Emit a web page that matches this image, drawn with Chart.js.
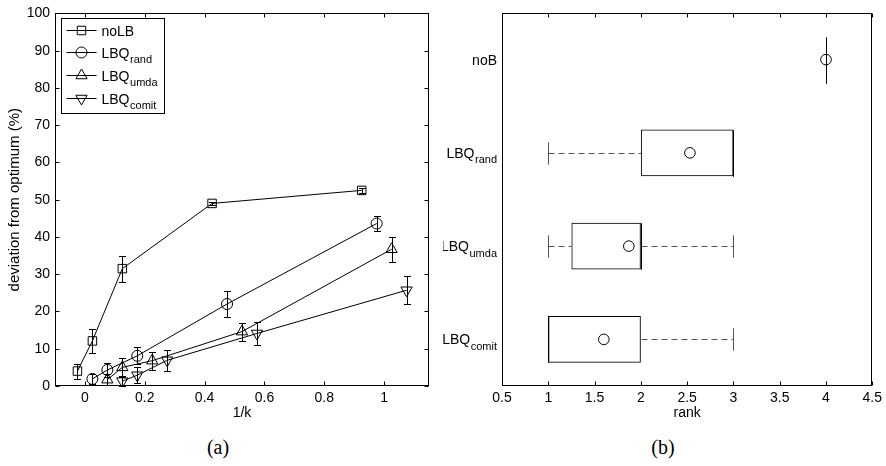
<!DOCTYPE html>
<html>
<head>
<meta charset="utf-8">
<script src="https://cdn.jsdelivr.net/npm/chart.js@4.4.0/dist/chart.umd.min.js"></script>
<style>
    body { margin: 0; background: #fff; width: 886px; height: 466px; position: relative; overflow: hidden; }
    .pane { position: absolute; top: 0; width: 443px; height: 422px; }
    #paneA { left: 0; }
    #paneB { left: 443px; }
    .caption { position: absolute; top: 437px; line-height: 20px; font-family: "Liberation Serif", "DejaVu Serif", serif; font-size: 20px; transform: translateX(-50%); }
</style>
</head>
<body>
<div class="pane" id="paneA"><canvas id="devChart"></canvas></div>
<div class="pane" id="paneB"><canvas id="rankChart"></canvas></div>
<div class="caption" style="left:218px">(a)</div>
<div class="caption" style="left:663px">(b)</div>

<script>
// ---- panel (a): deviation vs 1/k ----
const xTicksA = [0, 0.2, 0.4, 0.6, 0.8, 1];
const yTicksA = [0, 10, 20, 30, 40, 50, 60, 70, 80, 90, 100];

const noLbX   = [-0.025, 0.025, 0.125, 0.425, 0.925];
const noLbY   = [4.0, 12.1, 31.5, 49.0, 52.5];
const noLbErr = [2.0, 3.2, 3.5, 0.5, 0.6];

const randX   = [0.025, 0.075, 0.175, 0.475, 0.975];
const randY   = [1.9, 4.3, 8.1, 22.0, 43.6];
const randErr = [1.3, 2.0, 2.3, 3.6, 2.0];

const umdaX   = [0.075, 0.125, 0.225, 0.525, 1.025];
const umdaY   = [1.7, 5.0, 6.8, 14.6, 36.7];
const umdaErr = [1.5, 2.6, 2.4, 2.4, 3.4];

const comitX   = [0.125, 0.175, 0.275, 0.575, 1.075];
const comitY   = [1.3, 2.9, 6.9, 14.1, 25.7];
const comitErr = [1.3, 2.1, 2.8, 3.2, 3.7];

const seriesMain = ['noLB', 'LBQ', 'LBQ', 'LBQ'];
const seriesSub  = ['', 'rand', 'umda', 'comit'];

// ---- panel (b): rank box plot ----
const rankMain   = ['noB', 'LBQ', 'LBQ', 'LBQ'];
const rankSub    = ['', 'rand', 'umda', 'comit'];
const rankLow    = [4, 1, 1, 1];
const rankQ1     = [4, 2, 1.25, 1];
const rankMedian = [4, 3, 2, 1];
const rankQ3     = [4, 3, 2, 2];
const rankHigh   = [4, 3, 3, 3];
const rankMean   = [4, 2.53, 1.87, 1.6];
const rankTicks  = [0.5, 1, 1.5, 2, 2.5, 3, 3.5, 4, 4.5];

const FONT = '"Liberation Sans", Arial, sans-serif';
Chart.defaults.font.family = FONT;
Chart.defaults.color = '#000';

const seriesX = [noLbX, randX, umdaX, comitX];
const seriesY = [noLbY, randY, umdaY, comitY];
const seriesErr = [noLbErr, randErr, umdaErr, comitErr];
const markers = ['rect', 'circle', 'triangle', 'triangle'];
const rotations = [0, 0, 0, 180];
const radii = [6, 5.5, 6.5, 6.5];

// matlab style numbers: 1 not 1.0
const plainNum = v => String(Math.round(v * 100) / 100);

// label with a subscript part (LBQ_rand etc.)
function drawSubLabel(ctx, main, sub, x, cy, align) {
    ctx.font = '14px ' + FONT;
    const wMain = ctx.measureText(main).width;
    ctx.font = '11px ' + FONT;
    const wSub = sub ? ctx.measureText(sub).width + 0.5 : 0;
    const x0 = align === 'right' ? x - wMain - wSub : x;
    ctx.fillStyle = '#000';
    ctx.textAlign = 'left';
    ctx.textBaseline = 'alphabetic';
    ctx.font = '14px ' + FONT;
    ctx.fillText(main, x0, cy + 5);
    if (sub) {
        ctx.font = '11px ' + FONT;
        ctx.fillText(sub, x0 + wMain + 0.5, cy + 10.5);
    }
}

// box round the plot area with inward ticks
function boxAxes(withYTicks) {
    return {
        id: 'boxAxes',
        afterDraw(chart) {
            const { ctx, chartArea: a, scales } = chart;
            const l = Math.round(a.left) + 0.5, r = Math.round(a.right) - 0.5;
            const t = Math.round(a.top) + 0.5, b = Math.round(a.bottom) - 0.5;
            ctx.save();
            ctx.strokeStyle = '#000';
            ctx.lineWidth = 1;
            ctx.beginPath();
            scales.x.ticks.forEach(tk => {
                const px = Math.round(scales.x.getPixelForValue(tk.value)) + 0.5;
                ctx.moveTo(px, b); ctx.lineTo(px, b - 4);
                ctx.moveTo(px, t); ctx.lineTo(px, t + 4);
            });
            if (withYTicks) {
                scales.y.ticks.forEach(tk => {
                    const py = Math.round(scales.y.getPixelForValue(tk.value)) + 0.5;
                    ctx.moveTo(l, py); ctx.lineTo(l + 4, py);
                    ctx.moveTo(r, py); ctx.lineTo(r - 4, py);
                });
            }
            ctx.stroke();
            ctx.strokeRect(l, t, r - l, b - t);
            ctx.restore();
        }
    };
}

const errorBars = {
    id: 'errorBars',
    afterDatasetsDraw(chart) {
        const { ctx, scales: { x, y } } = chart;
        ctx.save();
        ctx.strokeStyle = '#000';
        ctx.lineWidth = 1;
        ctx.beginPath();
        seriesX.forEach((xs, i) => xs.forEach((xv, j) => {
            const px = Math.round(x.getPixelForValue(xv)) + 0.5;
            const hi = Math.round(y.getPixelForValue(seriesY[i][j] + seriesErr[i][j])) + 0.5;
            const lo = Math.round(y.getPixelForValue(seriesY[i][j] - seriesErr[i][j])) + 0.5;
            ctx.moveTo(px, hi); ctx.lineTo(px, lo);
            ctx.moveTo(px - 3.5, hi); ctx.lineTo(px + 3.5, hi);
            ctx.moveTo(px - 3.5, lo); ctx.lineTo(px + 3.5, lo);
        }));
        ctx.stroke();
        ctx.restore();
    }
};

const subLegend = {
    id: 'subLegend',
    afterDraw(chart) {
        const { ctx, chartArea: a } = chart;
        const bx = Math.round(a.left) + 6.5, by = Math.round(a.top) + 5.5;
        ctx.save();
        ctx.fillStyle = '#fff';
        ctx.fillRect(bx, by, 103, 95);
        ctx.strokeStyle = '#000';
        ctx.lineWidth = 1;
        ctx.strokeRect(bx, by, 103, 95);
        chart.data.datasets.forEach((ds, i) => {
            const yy = Math.round(by + 11 + i * 22.7) + 0.5;
            ctx.strokeStyle = '#000';
            ctx.beginPath();
            ctx.moveTo(bx + 5, yy); ctx.lineTo(bx + 35, yy);
            ctx.stroke();
            ctx.fillStyle = 'rgba(0,0,0,0)';
            Chart.helpers.drawPoint(ctx, {
                pointStyle: ds.pointStyle, rotation: ds.pointRotation,
                radius: ds.pointRadius, borderWidth: 1
            }, bx + 20, yy);
            drawSubLabel(ctx, seriesMain[i], seriesSub[i], bx + 40, yy, 'left');
        });
        ctx.restore();
    }
};

new Chart(document.getElementById('devChart'), {
    type: 'scatter',
    data: {
        datasets: seriesX.map((xs, i) => ({
            label: seriesMain[i] + seriesSub[i],
            data: xs.map((xv, j) => ({ x: xv, y: seriesY[i][j] })),
            showLine: true,
            borderColor: '#000',
            borderWidth: 1,
            pointStyle: markers[i],
            pointRotation: rotations[i],
            pointRadius: radii[i],
            pointBorderColor: '#000',
            pointBorderWidth: 1,
            pointBackgroundColor: 'rgba(0,0,0,0)'
        }))
    },
    options: {
        animation: false,
        responsive: true,
        maintainAspectRatio: false,
        events: [],
        layout: { padding: { top: 13, right: 14, left: 0, bottom: 0 } },
        plugins: { legend: { display: false }, tooltip: { enabled: false } },
        scales: {
            x: {
                type: 'linear', min: -0.1, max: 1.15,
                grid: { display: false, drawTicks: false },
                border: { display: false },
                afterBuildTicks: s => { s.ticks = xTicksA.map(v => ({ value: v })); },
                afterFit: s => { s.height = 36; },
                ticks: { font: { size: 14 }, padding: 4, maxRotation: 0, callback: plainNum },
                title: { display: true, text: '1/k', font: { size: 14 }, padding: 0 }
            },
            y: {
                type: 'linear', min: 0, max: 100,
                grid: { display: false, drawTicks: false },
                border: { display: false },
                afterBuildTicks: s => { s.ticks = yTicksA.map(v => ({ value: v })); },
                afterFit: s => { s.width = 55; },
                ticks: { font: { size: 14 }, padding: 5, callback: plainNum },
                title: { display: true, text: 'deviation from optimum (%)', font: { size: 15 }, padding: { top: 6, bottom: 0 } }
            }
        }
    },
    plugins: [errorBars, boxAxes(true), subLegend]
});

// whiskers, caps, medians and category labels for the box plot
const boxWhiskers = {
    id: 'boxWhiskers',
    afterDatasetsDraw(chart) {
        const { ctx, scales: { x, y } } = chart;
        const band = y.height / rankMain.length;
        const px = v => Math.round(x.getPixelForValue(v)) + 0.5;
        ctx.save();
        ctx.lineWidth = 1;
        rankMain.forEach((_, i) => {
            const cy = Math.round(y.getPixelForValue(i)) + 0.5;
            ctx.strokeStyle = '#555';
            ctx.setLineDash([6, 4]);
            ctx.beginPath();
            if (rankLow[i] < rankQ1[i]) { ctx.moveTo(px(rankLow[i]), cy); ctx.lineTo(px(rankQ1[i]), cy); }
            if (rankHigh[i] > rankQ3[i]) { ctx.moveTo(px(rankQ3[i]), cy); ctx.lineTo(px(rankHigh[i]), cy); }
            ctx.stroke();
            ctx.setLineDash([]);
            const capH = band * 0.12;
            ctx.beginPath();
            [rankLow[i], rankHigh[i]].forEach(v => {
                ctx.moveTo(px(v), cy - capH); ctx.lineTo(px(v), cy + capH);
            });
            ctx.stroke();
            const boxH = band * 0.25;
            ctx.strokeStyle = '#000';
            ctx.beginPath();
            ctx.moveTo(px(rankMedian[i]), cy - boxH); ctx.lineTo(px(rankMedian[i]), cy + boxH);
            ctx.stroke();
        });
        ctx.restore();
    },
    afterDraw(chart) {
        const { ctx, chartArea: a, scales: { y } } = chart;
        ctx.save();
        rankMain.forEach((m, i) => {
            drawSubLabel(ctx, m, rankSub[i], a.left - 5, y.getPixelForValue(i), 'right');
        });
        ctx.restore();
    }
};

new Chart(document.getElementById('rankChart'), {
    type: 'bar',
    data: {
        labels: rankMain.map((m, i) => m + rankSub[i]),
        datasets: [
            {
                type: 'bar',
                indexAxis: 'y',
                data: rankQ1.map((q, i) => [q, rankQ3[i]]),
                backgroundColor: 'rgba(0,0,0,0)',
                borderColor: '#000',
                borderWidth: 1,
                borderSkipped: false,
                barPercentage: 0.5,
                categoryPercentage: 1,
                order: 2
            },
            {
                type: 'line',
                indexAxis: 'y',
                data: rankMean,
                showLine: false,
                pointStyle: 'circle',
                pointRadius: 5.3,
                pointBorderColor: '#000',
                pointBorderWidth: 1,
                pointBackgroundColor: 'rgba(0,0,0,0)',
                borderColor: '#000',
                order: 1
            }
        ]
    },
    options: {
        indexAxis: 'y',
        animation: false,
        responsive: true,
        maintainAspectRatio: false,
        events: [],
        layout: { padding: { top: 13, right: 10, left: 0, bottom: 0 } },
        plugins: { legend: { display: false }, tooltip: { enabled: false } },
        scales: {
            x: {
                type: 'linear', min: 0.5, max: 4.5,
                grid: { display: false, drawTicks: false },
                border: { display: false },
                afterBuildTicks: s => { s.ticks = rankTicks.map(v => ({ value: v })); },
                afterFit: s => { s.height = 36; },
                ticks: { font: { size: 14 }, padding: 4, maxRotation: 0, callback: plainNum },
                title: { display: true, text: 'rank', font: { size: 14 }, padding: 0 }
            },
            y: {
                type: 'category',
                grid: { display: false, drawTicks: false },
                border: { display: false },
                ticks: { display: false },
                afterFit: s => { s.width = 59; }
            }
        }
    },
    plugins: [boxWhiskers, boxAxes(false)]
});
</script>
</body>
</html>
